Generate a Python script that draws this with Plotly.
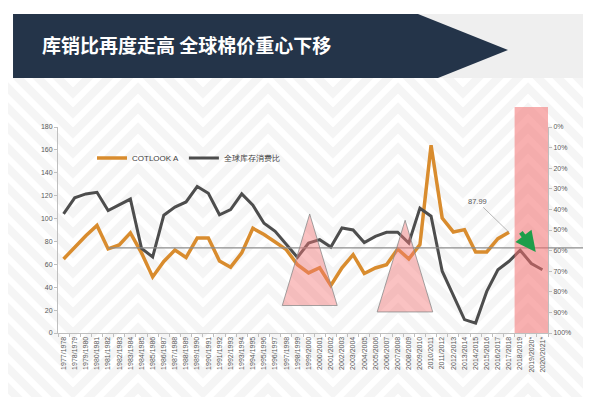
import plotly.graph_objects as go

# ---------------- data ----------------
seasons = ["1977/1978", "1978/1979", "1979/1980", "1980/1981", "1981/1982", "1982/1983",
           "1983/1984", "1984/1985", "1985/1986", "1986/1987", "1987/1988", "1988/1989",
           "1989/1990", "1990/1991", "1991/1992", "1992/1993", "1993/1994", "1994/1995",
           "1995/1996", "1996/1997", "1997/1998", "1998/1999", "1999/2000", "2000/2001",
           "2001/2002", "2002/2003", "2003/2004", "2004/2005", "2005/2006", "2006/2007",
           "2007/2008", "2008/2009", "2009/2010", "2010/2011", "2011/2012", "2012/2013",
           "2013/2014", "2014/2015", "2015/2016", "2016/2017", "2017/2018", "2018/2019",
           "2019/2020*", "2020/2021*"]

cotlook_a = [64.7, 75, 85, 94, 73.5, 77, 87.5, 70, 49, 62.5, 72.5, 66, 83, 83, 63, 57.5,
             70, 91.5, 86, 79.5, 72.8, 59.7, 52.5, 57, 41.5, 57, 68.4, 52, 56.8, 59.7,
             73.4, 64.7, 77.2, 164, 100.5, 88.3, 90.3, 70.8, 70.8, 82.4, 87.99]

stock_use_pct = [42.2, 34.4, 32.5, 31.7, 40.6, 38.0, 35.0, 58.9, 63.1, 42.8,
                 38.9, 36.4, 28.9, 32.2, 42.6, 40.1, 32.5, 38.0, 46.7, 50.6,
                 56.7, 63.3, 56.3, 54.7, 58.3, 49.0, 50.0, 56.1, 53.1, 51.1,
                 51.1, 56.3, 39.4, 43.3, 70.0, 81.4, 93.5, 95.2, 79.8, 69.3,
                 65.2, 59.8, 66.3, 69.3]

left_ticks = [0, 20, 40, 60, 80, 100, 120, 140, 160, 180]
right_ticks = [0, 10, 20, 30, 40, 50, 60, 70, 80, 90, 100]
right_tick_labels = ["0%", "10%", "20%", "30%", "40%", "50%", "60%", "70%", "80%", "90%", "100%"]
avg_level = 74.3
label_value = "87.99"

# ---------------- layout geometry (pixels) ----------------
W, H = 591, 397
L, R, T, B = 50, 51, 119, 72
PW, PH = W - L - R, H - T - B


def px(x):
    return (x - L) / PW


def py(y):
    return (H - B - y) / PH


shapes = []

# chevron background pattern (decorative)
stripe_col = "#f5f5f5"
period = 130
amp = 65
for k in range(-6, 24):
    base = 40 + k * 20
    pts = []
    x = -period
    i = 0
    while x <= W + period:
        yy = base + (0 if i % 2 == 0 else amp)
        pts.append((x, yy))
        x += period / 2
        i += 1
    path = "M " + " L ".join(f"{px(a):.4f},{py(b):.4f}" for a, b in pts)
    shapes.append(dict(type="path", xref="paper", yref="paper", path=path,
                       line=dict(color=stripe_col, width=8), layer="below"))

# cover the pattern above the body
shapes.append(dict(type="rect", xref="paper", yref="paper", x0=px(0), x1=px(W),
                   y0=py(0), y1=py(70), fillcolor="white", line=dict(width=0), layer="below"))
# header light grey strip
shapes.append(dict(type="rect", xref="paper", yref="paper", x0=px(5), x1=px(W),
                   y0=py(6), y1=py(70), fillcolor="#efefef", line=dict(width=0), layer="below"))
# header dark banner with arrow point
banner = [(5, 6), (410, 6), (500, 42), (430, 70), (5, 70)]
shapes.append(dict(type="path", xref="paper", yref="paper",
                   path="M " + " L ".join(f"{px(a):.4f},{py(b):.4f}" for a, b in banner) + " Z",
                   fillcolor="#243449", line=dict(width=0), layer="below"))

# horizontal reference line (average level), extends past right axis
shapes.append(dict(type="line", xref="paper", yref="y", x0=(4 + 0.5) / 44, x1=px(W),
                   y0=avg_level, y1=avg_level, line=dict(color="#8c8c8c", width=1.2),
                   layer="above"))

# forecast band
shapes.append(dict(type="rect", xref="x", yref="paper", x0=40.5, x1=43.5, y0=0,
                   y1=py(99), fillcolor="rgba(242,112,112,0.55)", line=dict(width=0),
                   layer="above"))

# triangles marking cycles
for (xl, xa, xr, ya, yb) in [(19.64, 22.1, 24.57, 104, 24), (28.16, 30.67, 33.15, 98.5, 18.4)]:
    shapes.append(dict(type="path", xref="x", yref="y",
                       path=f"M {xl},{yb} L {xa},{ya} L {xr},{yb} Z",
                       fillcolor="rgba(245,120,120,0.45)",
                       line=dict(color="#8a8a8a", width=0.8), layer="above"))

fig = go.Figure()
fig.add_trace(go.Scatter(x=seasons[:len(cotlook_a)], y=cotlook_a, mode="lines",
                         name="COTLOOK A", line=dict(color="#d98c2e", width=3.5)))
fig.add_trace(go.Scatter(x=seasons, y=stock_use_pct, mode="lines", name="全球库存消费比",
                         yaxis="y2", line=dict(color="#4d4d4d", width=3)))

tick_font = dict(family="Liberation Sans, Arial", size=7, color="#595959")

annotations = [
    dict(text="<b>库销比再度走高 全球棉价重心下移</b>", xref="paper", yref="paper",
         x=px(32), y=py(37), xanchor="left", yanchor="middle", showarrow=False,
         font=dict(family="Noto Sans CJK SC", size=19, color="white")),
    dict(text=label_value, x=seasons[len(cotlook_a) - 1], y=cotlook_a[-1], xref="x", yref="y",
         ax=-32, ay=-31, showarrow=True, arrowhead=0, arrowwidth=0.7, arrowcolor="#9a9a9a",
         font=dict(family="Liberation Sans, Arial", size=7.5, color="#595959")),
    dict(text="", x=42.4, y=70.8, xref="x", yref="y", ax=-16, ay=-21, showarrow=True,
         arrowhead=2, arrowsize=0.9, arrowwidth=4.5, arrowcolor="#1e9e4a"),
]

fig.update_layout(
    width=W, height=H,
    margin=dict(l=L, r=R, t=T, b=B, pad=0),
    paper_bgcolor="white",
    plot_bgcolor="rgba(0,0,0,0)",
    shapes=shapes,
    annotations=annotations,
    showlegend=True,
    legend=dict(orientation="h", x=px(84), y=py(150), xanchor="left", yanchor="middle",
                bgcolor="rgba(0,0,0,0)", font=dict(family="Liberation Sans, Arial", size=8,
                                                   color="#404040"),
                itemwidth=30, tracegroupgap=0),
    xaxis=dict(type="category", tickangle=-90, tickfont=tick_font, showgrid=False,
               showline=True, linecolor="#bfbfbf", linewidth=1, ticks="outside",
               tickson="boundaries", ticklen=3, tickcolor="#bfbfbf", zeroline=False,
               range=[-0.5, 43.5]),
    yaxis=dict(range=[0, 180], tickvals=left_ticks, tickfont=tick_font, showgrid=False,
               showline=True, linecolor="#bfbfbf", linewidth=1, ticks="outside", ticklen=3,
               tickcolor="#bfbfbf", zeroline=False),
    yaxis2=dict(range=[100, 0], tickmode="array", tickvals=right_ticks,
                ticktext=right_tick_labels, overlaying="y",
                side="right", tickfont=tick_font, showgrid=False, showline=True,
                linecolor="#bfbfbf", linewidth=1, ticks="outside", ticklen=3,
                tickcolor="#bfbfbf", zeroline=False),
)

fig.write_html("out.html")
